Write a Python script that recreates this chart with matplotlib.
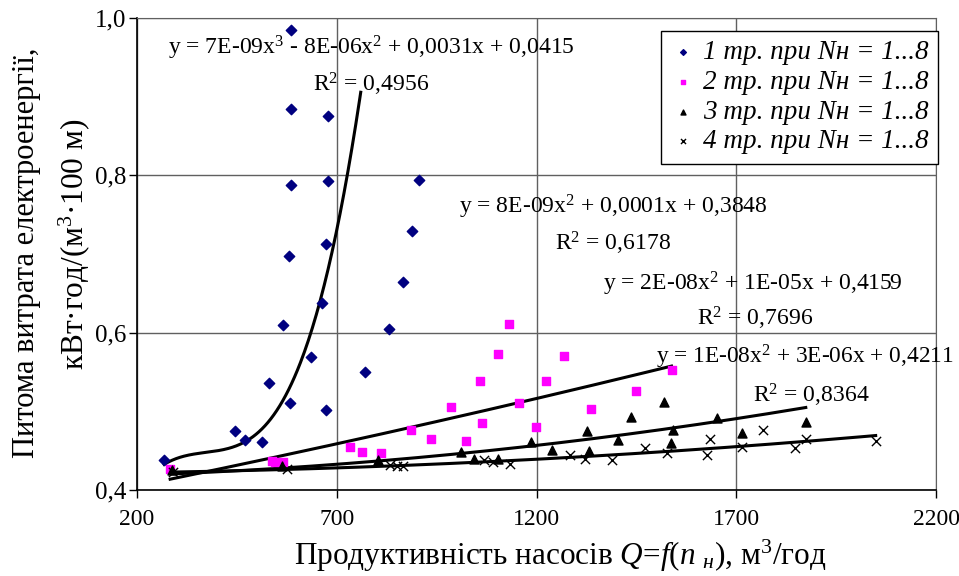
import numpy as np
import matplotlib
matplotlib.use('Agg')
import matplotlib.pyplot as plt

plt.rcParams['font.family'] = ['Liberation Serif', 'DejaVu Serif']
plt.rcParams['mathtext.fontset'] = 'custom'
plt.rcParams['mathtext.rm'] = 'Liberation Serif'
plt.rcParams['mathtext.it'] = 'Liberation Serif:italic'

# series 1..4 (pumps working in parallel)
x1 = [268, 445, 470, 513, 530, 565, 580, 583, 585, 585, 585, 636, 663, 673, 673, 678, 678, 771, 831, 866, 889, 906]
y1 = [0.438, 0.475, 0.464, 0.461, 0.536, 0.610, 0.697, 0.511, 0.788, 0.884, 0.985, 0.569, 0.638, 0.713, 0.502, 0.793, 0.876, 0.550, 0.605, 0.665, 0.729, 0.794]

x2 = [283, 537, 545, 565, 733, 762, 811, 885, 936, 987, 1023, 1058, 1064, 1103, 1131, 1156, 1199, 1224, 1269, 1336, 1448, 1538]
y2 = [0.427, 0.437, 0.436, 0.436, 0.455, 0.448, 0.447, 0.476, 0.465, 0.505, 0.462, 0.538, 0.485, 0.573, 0.611, 0.511, 0.480, 0.539, 0.570, 0.503, 0.526, 0.552]

x3 = [287, 562, 804, 1010, 1043, 1103, 1186, 1240, 1326, 1331, 1405, 1437, 1520, 1536, 1542, 1653, 1715, 1874]
y3 = [0.425, 0.430, 0.438, 0.448, 0.440, 0.439, 0.461, 0.451, 0.475, 0.449, 0.464, 0.493, 0.512, 0.460, 0.476, 0.492, 0.473, 0.487]

x4 = [290, 575, 833, 850, 866, 1069, 1092, 1134, 1284, 1321, 1388, 1472, 1526, 1626, 1634, 1714, 1768, 1847, 1874, 2049]
y4 = [0.423, 0.427, 0.432, 0.430, 0.430, 0.438, 0.435, 0.433, 0.445, 0.439, 0.438, 0.454, 0.447, 0.445, 0.465, 0.455, 0.476, 0.453, 0.465, 0.462]

labels = ['1 тр. при Nн = 1...8', '2 тр. при Nн = 1...8',
          '3 тр. при Nн = 1...8', '4 тр. при Nн = 1...8']

# trendlines (polynomial coefficients, highest power first) and x ranges
trend1 = [7.409e-9, -8.2715e-6, 0.00314387, 0.0415]
trend2 = [8e-9, 1e-4, 0.3848]
trend3 = [2e-8, 1e-5, 0.4159]
trend4 = [1e-8, 3e-6, 0.4211]
trend_ranges = [(268, 760), (283, 1538), (287, 1874), (290, 2049)]

eq_texts = ['y = 7E-09x$^3$ - 8E-06x$^2$ + 0,0031x + 0,0415', 'R$^2$ = 0,4956',
            'y = 8E-09x$^2$ + 0,0001x + 0,3848', 'R$^2$ = 0,6178',
            'y = 2E-08x$^2$ + 1E-05x + 0,4159', 'R$^2$ = 0,7696',
            'y = 1E-08x$^2$ + 3E-06x + 0,4211', 'R$^2$ = 0,8364']
# (x, baseline y) in data units, left-aligned
eq_pos = [(278, 0.953), (640, 0.907),
          (1006, 0.752), (1246, 0.705),
          (1366, 0.6535), (1602, 0.609),
          (1500, 0.561), (1742, 0.511)]

fig = plt.figure(figsize=(9.59, 5.76), dpi=100)
ax = fig.add_axes([137/959, 1-490/576, (936-137)/959, (490-18)/576])

for (a, b), c in zip(trend_ranges, [trend1, trend2, trend3, trend4]):
    xs = np.linspace(a, b, 200)
    ax.plot(xs, np.polyval(c, xs), color='black', lw=2.2, zorder=3)

ax.scatter(x1, y1, marker='D', s=28, color='#000080', label=labels[0], zorder=4)
ax.scatter(x2, y2, marker='s', s=36, color='#FF00FF', label=labels[1], zorder=4)
ax.scatter(x3, y3, marker='^', s=42, color='black', label=labels[2], zorder=4)
ax.scatter(x4, y4, marker='x', s=44, color='black', linewidths=1.0, label=labels[3], zorder=4)

for i, (t, (px, py)) in enumerate(zip(eq_texts, eq_pos)):
    fs = 16.8 if i == 6 else 17
    ax.text(px, py, t, fontsize=fs, ha='left', va='baseline', clip_on=False, zorder=5)

ax.set_xlim(200, 2200)
ax.set_ylim(0.4, 1.0)
ax.set_xticks([200, 700, 1200, 1700, 2200])
ax.set_yticks([0.4, 0.6, 0.8, 1.0])
ax.set_yticklabels(['0,4', '0,6', '0,8', '1,0'])
ax.tick_params(direction='out', length=6, width=1, labelsize=17, colors='black')
ax.tick_params(axis='y', labelsize=18, pad=2)
ax.tick_params(axis='x', pad=8)
ax.grid(True, color='#606060', lw=1)
ax.set_axisbelow(True)
for s in ['top', 'right']:
    ax.spines[s].set_color('#606060')
for s in ['left', 'bottom']:
    ax.spines[s].set_linewidth(1.2)

fig.text(560/959, 1-556/576, 'Продуктивність насосів $Q$=$f($$n$ $_{н}$$)$, м$^3$/год',
         fontsize=22.5, ha='center', va='center')
fig.text(27/959, 1-253/576, 'Питома витрата електроенергії,', rotation=90,
         fontsize=22, ha='center', va='center')
fig.text(74/959, 1-244/576, 'кВт·год/(м$^3$·100 м)', rotation=90,
         fontsize=22.5, ha='center', va='center')

leg = ax.legend(loc='upper right', bbox_to_anchor=(938/959, 1-31/576),
                bbox_transform=fig.transFigure, borderaxespad=0,
                prop={'style': 'italic', 'size': 19.5}, markerscale=0.55,
                frameon=True, fancybox=False, edgecolor='black', framealpha=1,
                handletextpad=0.3, labelspacing=0.17, borderpad=0.35, handlelength=0.9)
leg.get_frame().set_linewidth(1)

fig.savefig('out.png', dpi=100)
